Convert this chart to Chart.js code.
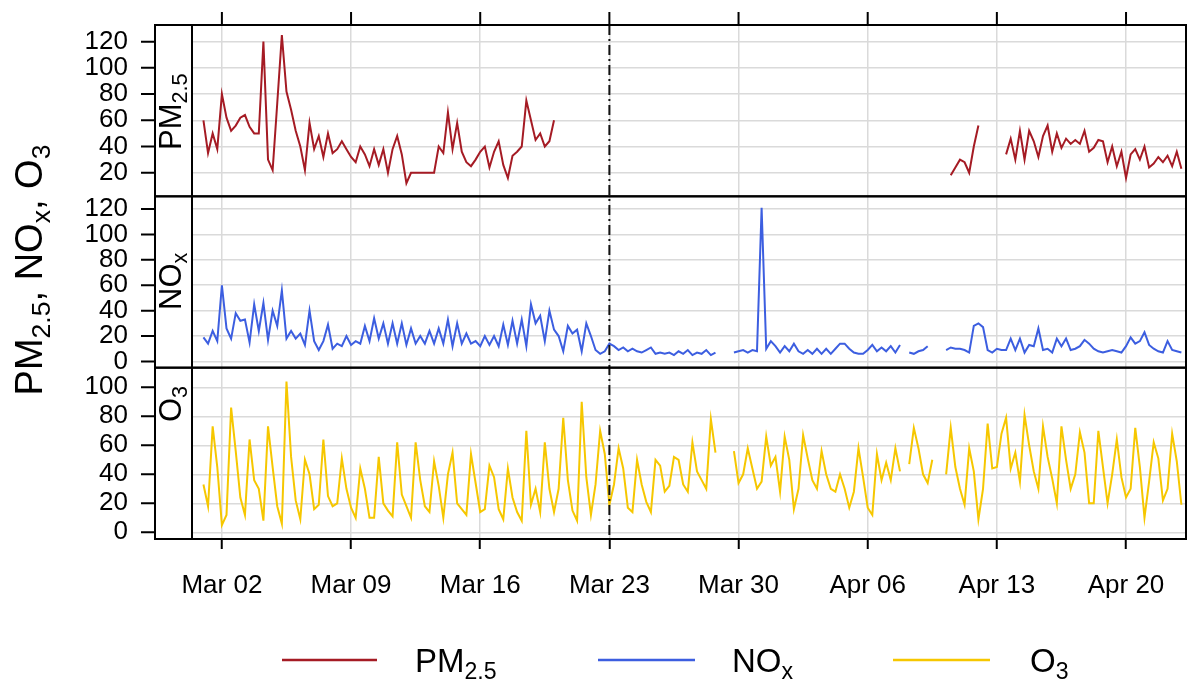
<!DOCTYPE html>
<html>
<head>
<meta charset="utf-8">
<script src="https://cdn.jsdelivr.net/npm/chart.js@4.4.1/dist/chart.umd.min.js"></script>
<style>
  html, body { margin: 0; padding: 0; background: #fff; }
</style>
</head>
<body>
<canvas id="chart" width="1189" height="683"></canvas>
<script>
// 6-hourly readings, x = days since Mar 01 00:00
const STEP = 0.25;

const pm25 = [
  60, 35, 50, 38,   80, 62, 52, 56,   62, 64, 55, 50,   50, 120, 30, 22,
  73, 125, 82, 68,  52, 40, 22, 58,   38, 48, 32, 50,   35, 38, 44, 38,
  32, 28, 40, 34,   25, 38, 26, 38,   20, 38, 48, 34,   12, 20, 20, 20,
  20, 20, 20, 40,   35, 66, 38, 58,   36, 28, 25, 30,   36, 40, 24, 36,
  44, 26, 16, 33,   36, 40, 75, 60,   45, 50, 40, 44,   60, null, null, null,
  null, null, null, null,  null, null, null, null,  null, null, null, null,  null, null, null, null,
  null, null, null, null,  null, null, null, null,  null, null, null, null,  null, null, null, null,
  null, null, null, null,  null, null, null, null,  null, null, null, null,  null, null, null, null,
  null, null, null, null,  null, null, null, null,  null, null, null, null,  null, null, null, null,
  null, null, null, null,  null, null, null, null,  null, null, null, null,  null, null, null, null,
  null, null, 18, 24,  30, 28, 20, 40,  56, null, null, null,  null, null, 34, 46,
  30, 52, 30, 52,   44, 32, 48, 56,   36, 50, 39, 46,   42, 45, 42, 52,
  36, 39, 45, 44,   28, 40, 25, 36,   16, 34, 38, 30,   40, 24, 27, 32,
  28, 33, 25, 36,   23
];

const nox = [
  19, 14, 24, 16,   60, 26, 18, 38,   32, 33, 15, 45,   24, 46, 17, 40,
  28, 56, 18, 24,   18, 22, 13, 40,   16, 9, 16, 29,    10, 14, 12, 20,
  13, 16, 14, 28,   16, 34, 18, 30,   14, 30, 14, 30,   13, 26, 14, 20,
  14, 24, 14, 26,   14, 33, 12, 30,   14, 22, 14, 16,   12, 20, 13, 20,
  12, 29, 13, 32,   14, 33, 12, 45,   30, 36, 16, 40,   25, 20, 8, 28,
  22, 25, 8, 30,    20, 9, 6, 8,     14, 12, 9, 11,    8, 10, 8, 7,
  9, 11, 6, 7,      6, 7, 5, 8,      6, 9, 5, 7,       6, 9, 5, 7,
  null, null, null, 7,  8, 9, 7, 9,  8, 121, 10, 16,   12, 7, 12, 8,
  14, 8, 6, 9,      6, 10, 6, 10,    6, 10, 14, 14,    10, 7, 6, 6,
  9, 13, 8, 11,     8, 12, 7, 13,    null, 7, 6, 8,    9, 12, null, null,
  null, 9, 11, 10,  10, 9, 7, 28,    30, 27, 9, 7,     10, 9, 9, 18,
  9, 18, 7, 13,     12, 26, 9, 10,   7, 18, 12, 18,    9, 10, 12, 17,
  14, 10, 8, 7,     8, 9, 8, 7,      12, 19, 14, 16,   23, 13, 10, 8,
  7, 16, 9, 8,      7
];

const o3 = [
  33, 18, 73, 45,   5, 12, 86, 56,   24, 12, 64, 36,   30, 8, 73, 45,
  18, 6, 104, 52,   22, 9, 50, 40,   16, 19, 64, 25,   18, 20, 51, 30,
  17, 10, 44, 30,   10, 10, 52, 20,  15, 11, 62, 26,   18, 10, 62, 36,
  18, 14, 49, 32,   10, 40, 55, 20,  16, 12, 54, 34,   14, 16, 46, 38,
  16, 9, 44, 24,    14, 8, 70, 19,   30, 14, 62, 30,   14, 30, 79, 36,
  15, 8, 90, 38,    12, 33, 70, 54,  19, 33, 58, 44,   17, 14, 50, 33,
  21, 14, 50, 46,   28, 32, 52, 50,  33, 28, 62, 42,   36, 30, 78, 55,
  null, null, null, 56,  34, 40, 58, 44,  30, 35, 66, 46,  52, 28, 66, 50,
  16, 30, 67, 51,   36, 30, 56, 40,  30, 28, 40, 30,   17, 28, 58, 38,
  17, 12, 54, 36,   48, 36, 58, 42,  null, 47, 72, 58,  40, 34, 50, null,
  null, 40, 72, 45, 30, 19, 58, 42,  9, 30, 75, 44,    45, 68, 79, 44,
  55, 35, 81, 60,   42, 30, 73, 52,  37, 20, 73, 50,   30, 40, 69, 55,
  20, 20, 70, 45,   20, 40, 64, 38,  24, 30, 72, 45,   10, 35, 62, 51,
  22, 30, 68, 49,   19
];

const tickDays = [1, 8, 15, 22, 29, 36, 43, 50];
const tickLabels = ['Mar 02', 'Mar 09', 'Mar 16', 'Mar 23', 'Mar 30', 'Apr 06', 'Apr 13', 'Apr 20'];
const pmTicks = [20, 40, 60, 80, 100, 120];
const noxTicks = [0, 20, 40, 60, 80, 100, 120];
const o3Ticks = [0, 20, 40, 60, 80, 100];
const lockdownDay = 22;

const RED = '#A51B24', BLUE = '#3C5EE0', GOLD = '#F6C700';
const FONT = '"Liberation Sans", Arial, Helvetica, sans-serif';
const GRID = '#dadada';

const toXY = arr => arr.map((v, i) => ({ x: i * STEP, y: v }));

// text pieces like [['PM', false], ['2.5', true]], second item = subscript
function richWidth(ctx, parts, size) {
  let w = 0;
  for (const [t, sub] of parts) {
    ctx.font = (sub ? size * 0.7 : size) + 'px ' + FONT;
    w += ctx.measureText(t).width;
  }
  return w;
}
function drawRich(ctx, parts, x, y, size, drop = 0.22) {
  let cx = x;
  for (const [t, sub] of parts) {
    const s = sub ? size * 0.7 : size;
    ctx.font = s + 'px ' + FONT;
    ctx.fillText(t, cx, sub ? y + size * drop : y);
    cx += ctx.measureText(t).width;
  }
}

const panelIds = ['yPM', 'yNOx', 'yO3'];
const stripText = {
  yPM: [['PM', false], ['2.5', true]],
  yNOx: [['NO', false], ['x', true]],
  yO3: [['O', false], ['3', true]]
};
const stripStart = { yPM: 150, yNOx: 310, yO3: 422 };

const decor = {
  id: 'decor',
  afterDatasetsDraw(chart) {
    const ctx = chart.ctx;
    const a = chart.chartArea;
    const xs = chart.scales.x;
    ctx.save();
    // dash-dot line at Mar 23
    const lx = xs.getPixelForValue(lockdownDay);
    ctx.strokeStyle = '#111';
    ctx.lineWidth = 2;
    ctx.setLineDash([10, 4, 2, 4]);
    ctx.beginPath();
    ctx.moveTo(lx, a.top);
    ctx.lineTo(lx, a.bottom);
    ctx.stroke();
    ctx.setLineDash([]);

    // top tick marks
    ctx.strokeStyle = '#000';
    ctx.lineWidth = 2;
    ctx.beginPath();
    for (const d of tickDays) {
      const x = xs.getPixelForValue(d);
      ctx.moveTo(x, a.top - 13);
      ctx.lineTo(x, a.top);
    }
    ctx.stroke();

    const boxLeft = 155;
    for (const id of panelIds) {
      const s = chart.scales[id];
      // strip label, rotated
      ctx.save();
      ctx.fillStyle = '#000';
      ctx.textBaseline = 'alphabetic';
      ctx.translate(181, stripStart[id]);
      ctx.rotate(-Math.PI / 2);
      drawRich(ctx, stripText[id], 0, 0, 31, 0.18);
      ctx.restore();

      ctx.strokeRect(boxLeft, s.top, a.right - boxLeft, s.bottom - s.top);
      ctx.beginPath();
      ctx.moveTo(a.left, s.top);
      ctx.lineTo(a.left, s.bottom);
      ctx.stroke();
      // tick marks
      ctx.beginPath();
      for (const t of s.ticks) {
        const y = s.getPixelForValue(t.value);
        ctx.moveTo(141, y);
        ctx.lineTo(boxLeft, y);
      }
      ctx.stroke();
    }

    // axis title
    const title = [['PM', false], ['2.5', true], [', NO', false], ['x', true], [', O', false], ['3', true]];
    ctx.save();
    ctx.fillStyle = '#000';
    const tw = richWidth(ctx, title, 38);
    ctx.translate(42, 270 + tw / 2);
    ctx.rotate(-Math.PI / 2);
    drawRich(ctx, title, 0, 0, 38);
    ctx.restore();

    // legend
    const items = [
      { c: RED, x0: 282, x1: 377, tx: 415, parts: [['PM', false], ['2.5', true]] },
      { c: BLUE, x0: 598, x1: 695, tx: 732, parts: [['NO', false], ['x', true]] },
      { c: GOLD, x0: 893, x1: 990, tx: 1030, parts: [['O', false], ['3', true]] }
    ];
    ctx.fillStyle = '#000';
    for (const it of items) {
      ctx.strokeStyle = it.c;
      ctx.lineWidth = 2.5;
      ctx.beginPath();
      ctx.moveTo(it.x0, 660);
      ctx.lineTo(it.x1, 660);
      ctx.stroke();
      drawRich(ctx, it.parts, it.tx, 672, 33);
    }
    ctx.restore();
  }
};

const yScale = (min, max, ticks) => ({
  type: 'linear',
  position: 'left',
  stack: 'panels',
  stackWeight: 1,
  min: min,
  max: max,
  afterBuildTicks: s => { s.ticks = ticks.map(v => ({ value: v })); },
  // label padding would otherwise also be added above the plot
  afterFit: s => { s.width = 192; s.paddingTop = 0; s.paddingBottom = 0; },
  grid: { color: GRID, lineWidth: 1.5, drawTicks: false },
  border: { display: false },
  ticks: { color: '#000', padding: 64, autoSkip: false, font: { family: FONT, size: 26 } }
});

new Chart(document.getElementById('chart'), {
  type: 'line',
  data: {
    datasets: [
      { label: 'PM2.5', data: toXY(pm25), borderColor: RED, yAxisID: 'yPM' },
      { label: 'NOx', data: toXY(nox), borderColor: BLUE, yAxisID: 'yNOx' },
      { label: 'O3', data: toXY(o3), borderColor: GOLD, yAxisID: 'yO3' }
    ]
  },
  options: {
    responsive: false,
    animation: false,
    devicePixelRatio: 1,
    layout: { padding: { top: 25, right: 3, bottom: 82, left: 0 } },
    elements: {
      line: { borderWidth: 2, tension: 0 },
      point: { radius: 0 }
    },
    plugins: { legend: { display: false }, tooltip: { enabled: false } },
    scales: {
      x: {
        type: 'linear',
        position: 'bottom',
        min: -0.62,
        max: 53.25,
        afterBuildTicks: s => { s.ticks = tickDays.map(v => ({ value: v })); },
        afterFit: s => { s.height = 62; },
        grid: { color: GRID, lineWidth: 1.5, tickLength: 10, tickColor: '#000', tickWidth: 2 },
        border: { display: false },
        ticks: {
          color: '#000', padding: 21, maxRotation: 0, autoSkip: false,
          font: { family: FONT, size: 26 },
          callback: v => tickLabels[tickDays.indexOf(v)]
        }
      },
      yO3: yScale(-4.6, 113.5, o3Ticks),
      yNOx: yScale(-4.9, 130, noxTicks),
      yPM: yScale(2, 132.7, pmTicks)
    }
  },
  plugins: [decor]
});
</script>
</body>
</html>
